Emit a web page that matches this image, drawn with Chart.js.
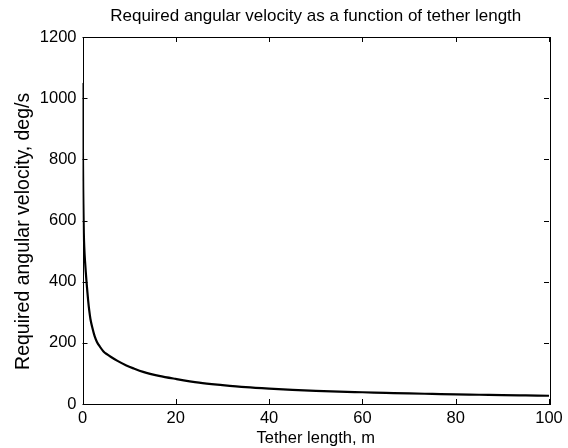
<!DOCTYPE html>
<html>
<head>
<meta charset="utf-8">
<script src="https://cdn.jsdelivr.net/npm/chart.js@4.4.1/dist/chart.umd.min.js"></script>
<style>
html,body{margin:0;padding:0;background:#fff;}
#wrap{width:568px;height:448px;}
</style>
</head>
<body>
<div id="wrap"><canvas id="c" width="568" height="448"></canvas></div>
<script>
const tetherLength = [0.03, 0.06, 0.1, 0.15, 0.2, 0.28, 0.4, 0.55, 0.7, 0.86, 1.0, 1.2, 1.45, 1.7, 2.1, 2.6, 3.1, 3.7, 4.5, 5.3, 6.2, 7.5, 9.4, 11, 13, 16.4, 20, 25, 30, 35, 40, 45, 50, 55, 60, 65, 70, 75, 80, 85, 90, 95, 100];
const angularVelocity = [1050, 920, 800, 700, 640, 560, 505, 465, 432, 400, 375, 340, 305, 278, 250, 222, 203, 188, 172, 162, 153, 141, 126, 116, 105, 92, 82, 70, 62, 55, 50, 46, 43, 40.5, 38.5, 36.5, 34.5, 33, 31.5, 30.3, 29, 28, 27];
const xTicks = [0, 20, 40, 60, 80, 100];
const yTicks = [0, 200, 400, 600, 800, 1000, 1200];
const titleText = 'Required angular velocity as a function of tether length';
const xTitle = 'Tether length, m';
const yTitle = 'Required angular velocity, deg/s    ';

const points = tetherLength.map((l, i) => ({x: l, y: angularVelocity[i]}));
const FONT = 'Liberation Sans, Arial, sans-serif';

const boxPlugin = {
  id: 'matlabBox',
  afterDraw(chart) {
    const {ctx, chartArea: a, scales} = chart;
    ctx.save();
    ctx.strokeStyle = '#000';
    ctx.lineWidth = 1;
    ctx.strokeRect(Math.round(a.left) + 0.5, Math.round(a.top) + 0.5, Math.round(a.right - a.left), Math.round(a.bottom - a.top));
    const L = 5;
    ctx.beginPath();
    scales.x.ticks.forEach(t => {
      const px = Math.round(scales.x.getPixelForValue(t.value)) + 0.5;
      ctx.moveTo(px, a.bottom); ctx.lineTo(px, a.bottom - L);
      ctx.moveTo(px, a.top); ctx.lineTo(px, a.top + L);
    });
    scales.y.ticks.forEach(t => {
      const py = Math.round(scales.y.getPixelForValue(t.value)) + 0.5;
      ctx.moveTo(a.left, py); ctx.lineTo(a.left + L, py);
      ctx.moveTo(a.right, py); ctx.lineTo(a.right - L, py);
    });
    ctx.stroke();
    ctx.restore();
  }
};

new Chart(document.getElementById('c'), {
  type: 'line',
  data: {
    datasets: [{
      data: points,
      borderColor: '#000',
      borderWidth: 2.2,
      pointRadius: 0,
      fill: false,
      cubicInterpolationMode: 'monotone'
    }]
  },
  options: {
    responsive: false,
    animation: false,
    devicePixelRatio: 1,
    layout: {padding: {left: 0, right: 19, top: 0, bottom: 0}},
    plugins: {
      legend: {display: false},
      tooltip: {enabled: false},
      title: {
        display: true,
        fullSize: false,
        text: titleText,
        color: '#000',
        font: {family: FONT, size: 17, weight: 'normal'},
        padding: {top: 6, bottom: 10.6}
      }
    },
    scales: {
      x: {
        type: 'linear',
        min: 0, max: 100,
        afterBuildTicks: s => { s.ticks = xTicks.map(v => ({value: v})); },
        afterFit: s => { s.height = 44; },
        grid: {display: false, drawTicks: false},
        border: {display: false},
        ticks: {color: '#000', font: {family: FONT, size: 16.5}, padding: 5, maxRotation: 0, callback: v => String(v)},
        title: {display: true, text: xTitle, color: '#000', font: {family: FONT, size: 16.5}, padding: {top: 0, bottom: 0}}
      },
      y: {
        type: 'linear',
        min: 0, max: 1200,
        afterBuildTicks: s => { s.ticks = yTicks.map(v => ({value: v})); },
        afterFit: s => { s.width = 82.5; },
        grid: {display: false, drawTicks: false},
        border: {display: false},
        ticks: {color: '#000', font: {family: FONT, size: 16.5}, padding: 6, callback: v => String(v)},
        title: {display: true, text: yTitle, color: '#000', font: {family: FONT, size: 19.5}, padding: {top: 12, bottom: 0}}
      }
    }
  },
  plugins: [boxPlugin]
});
</script>
</body>
</html>
